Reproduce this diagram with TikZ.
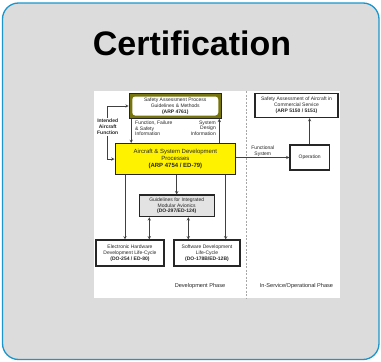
\documentclass[tikz,border=0pt]{standalone}
\usepackage{fontspec}
\setmainfont{Liberation Sans}
\definecolor{cardblue}{RGB}{26,150,204}
\definecolor{cardgray}{RGB}{220,220,220}
\definecolor{sapolive}{RGB}{118,116,12}
\begin{document}
\begin{tikzpicture}[x=1pt, y=-1pt, >=stealth]
				\tikzstyle{every node}=[inner sep=1pt, align=center, font=\fontsize{5}{5.8}\selectfont, text=black!85]
				\tikzstyle{box}=[draw=black!85, line width=1.1pt, fill=white, inner sep=0pt]
				\tikzstyle{link}=[draw=black!75, line width=0.5pt]
				\useasboundingbox (0,0) rectangle (381,362);
				% card and picture area
				\draw[cardblue, line width=1.3pt, fill=cardgray, rounded corners=16pt] (2.5,3) rectangle (379,359.5);
				\fill[white] (94,91) rectangle (340,298);
				\node[font=\fontsize{34}{40}\selectfont\bfseries, text=black] (title) at (192,43) {Certification};
				% boxes
				\node[box, fill=sapolive, line width=0.6pt, minimum width=92.5pt, minimum height=25pt] (sap) at (175.25,106) {};
				\node[fill=white, rounded corners=3pt, inner sep=0pt, minimum width=86pt, minimum height=19pt] (saptext) at (sap) {Safety Assessment Process\\Guidelines \& Methods\\\textbf{(ARP 4761)}};
				\node[box, fill=yellow, line width=1pt, minimum width=120.7pt, minimum height=31pt, font=\fontsize{6}{7}\selectfont] (ad) at (175.35,159) {Aircraft \& System Development\\Processes\\\textbf{(ARP 4754 / ED-79)}};
				\node[box, minimum width=83pt, minimum height=24pt] (sac) at (296.5,105.5) {Safety Assessment of Aircraft in\\Commercial Service\\\textbf{(ARP 5150 / 5151)}};
				\node[box, minimum width=39.3pt, minimum height=25pt] (op) at (309.6,157.5) {Operation};
				\node[box, fill=gray!22, minimum width=74.7pt, minimum height=21.7pt] (ima) at (176.7,205.8) {Guidelines for Integrated\\Modular Avionics\\\textbf{(DO-297/ED-124)}};
				\node[box, minimum width=68pt, minimum height=26pt] (ehw) at (130,253) {Electronic Hardware\\Development Life-Cycle\\\textbf{(DO-254 / ED-80)}};
				\node[box, minimum width=66pt, minimum height=26pt] (sw) at (207,253) {Software Development\\Life-Cycle\\\textbf{(DO-178B/ED-12B)}};
				% labels
				\node[font=\fontsize{5}{5.8}\selectfont\bfseries] (iaf) at (107.7,127) {Intended\\Aircraft\\Function};
				\node[anchor=north west, align=left] (ffs) at (134,119.5) {Function, Failure\\\& Safety\\Information};
				\node[anchor=north east, align=right] (sdi) at (217,119.5) {System\\Design\\Information};
				\node[font=\fontsize{5.6}{6.5}\selectfont] (devph) at (200,286) {Development Phase};
				\node[font=\fontsize{5.6}{6.5}\selectfont] (inph) at (296.5,286) {In-Service/Operational Phase};
				\draw[gray!70, dash pattern=on 2pt off 1.5pt, line width=0.6pt] (246.7,91) -- (246.7,298);
				% connectors
				\coordinate (ffsa) at ([xshift=2.5pt]sap.south west);
				\coordinate (sdia) at ([xshift=-2.5pt]sap.south east);
				\coordinate (hwin) at ([xshift=-5pt]ehw.north);
				\coordinate (swin) at ([xshift=18.7pt]sw.north);
				\coordinate (hwima) at ([xshift=19.3pt]ehw.north);
				\coordinate (swima) at ([xshift=-18.7pt]sw.north);
				\draw [link, ->] (iaf.north) |- (sap.west);
				\draw [link, ->] (iaf.south) |- (ad.west);
				\draw [link, ->] (ffsa) -- (ffsa |- ad.north);
				\draw [link, ->] (sdia |- ad.north) -- (sdia);
				\draw [link, ->] (ad.east |- op.west) -- (op.west) node[midway, above] {Functional\\System};
				\draw [link, ->] (op.north) -- (op.north |- sac.south);
				\draw [link, ->] (hwin |- ad.south) -- (hwin);
				\draw [link, ->] (ima.north |- ad.south) -- (ima.north);
				\draw [link, ->] (swin |- ad.south) -- (swin);
				\draw [link, <->] (hwima |- ima.south) -- (hwima);
				\draw [link, <->] (swima |- ima.south) -- (swima);
		\end{tikzpicture}
\end{document}
